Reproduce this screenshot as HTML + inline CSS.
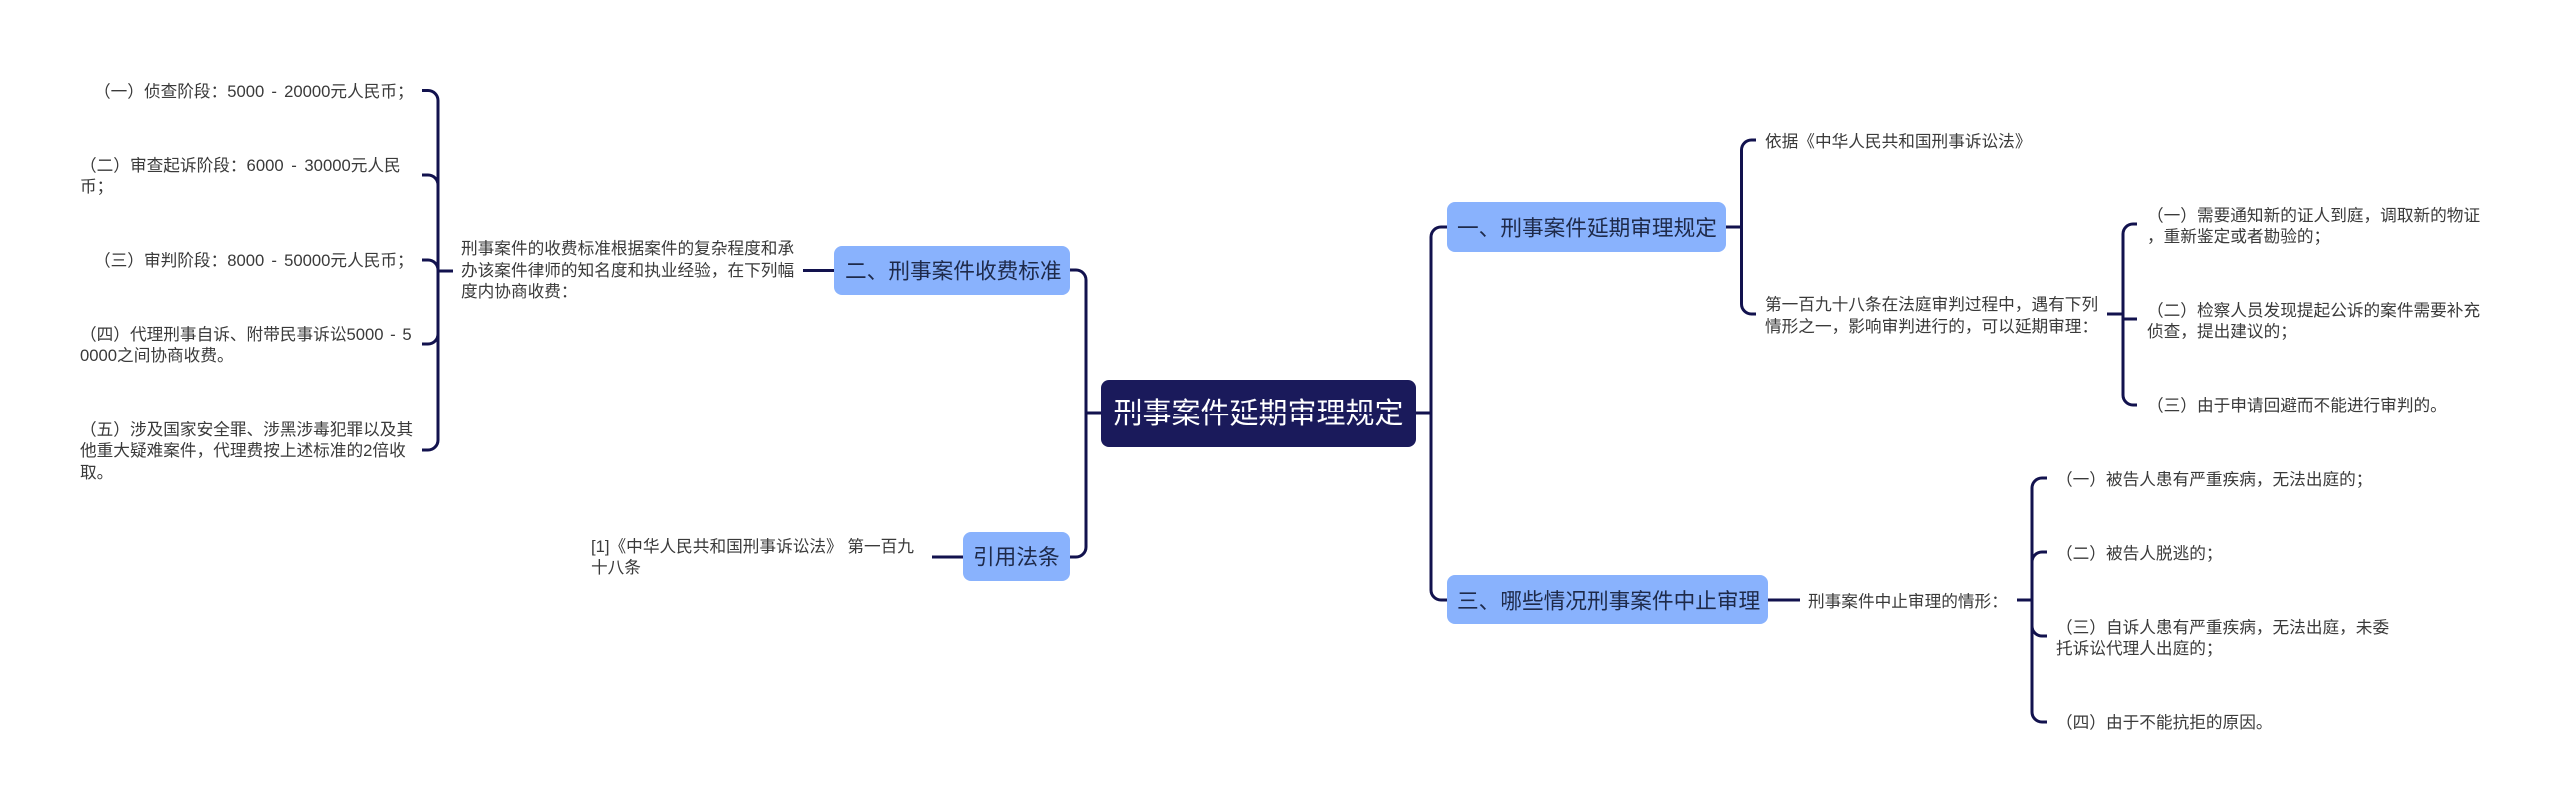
<!DOCTYPE html>
<html lang="zh">
<head>
<meta charset="utf-8">
<style>
html,body{margin:0;padding:0;background:#fff;}
#c{position:relative;width:2560px;height:812px;overflow:hidden;background:#fff;font-family:"Liberation Sans","Noto Sans CJK SC",sans-serif;}
#c svg{position:absolute;left:0;top:0;}
.n{position:absolute;box-sizing:border-box;border-radius:8px;background:#89b2fd;}
.r{position:absolute;left:1101px;top:380px;width:315px;height:67px;border-radius:8px;background:#1a1a5b;}
.t{position:absolute;white-space:pre;font-size:16.67px;line-height:22px;height:22px;color:#3a3a3a;transform:translateY(-11px);}
.h{position:absolute;white-space:pre;font-size:21.67px;line-height:32px;height:32px;color:#1e2a4a;transform:translateY(-14.500px);}
.rt{position:absolute;white-space:pre;left:1101px;top:391px;width:315px;text-align:center;font-size:29px;line-height:46px;color:#fff;}
</style>
</head>
<body>
<div id="c">
<div class="r"></div>
<div class="rt">刑事案件延期审理规定</div>
<div class="n" style="left:1447px;top:202px;width:279px;height:50px;"></div>
<div class="n" style="left:1447px;top:575px;width:321px;height:49px;"></div>
<div class="n" style="left:834px;top:246px;width:236px;height:49px;"></div>
<div class="n" style="left:963px;top:532px;width:107px;height:49px;"></div>

<svg width="2560" height="812" viewBox="0 0 2560 812" fill="none" stroke="#12124e" stroke-width="3">
<path d="M1101 413H1086M1416 413H1431"/>
<path stroke-width="2" stroke="#1a1a5b" d="M1101 413H1416"/>
<path d="M1447 227H1441a10 10 0 0 0-10 10V590a10 10 0 0 0 10 10H1447"/>
<path d="M1070 270H1076a10 10 0 0 1 10 10V547a10 10 0 0 1-10 10H1070"/>
<path d="M834 270.500H803M963 557H932"/>
<path d="M422 90.500H428a10 10 0 0 1 10 10V440a10 10 0 0 1-10 10H422"/>
<path d="M422 175H428a10 10 0 0 1 10 10M422 260H428a10 10 0 0 1 10 10M422 344H428a10 10 0 0 0 10-10M438 271H453"/>
<path d="M1726 227H1741.500M1756 140H1751.500a10 10 0 0 0-10 10V304a10 10 0 0 0 10 10H1756"/>
<path d="M2107 314H2123M2137 224H2133a10 10 0 0 0-10 10V395a10 10 0 0 0 10 10H2137M2123 319H2137"/>
<path d="M1768 600H1800M2017 600H2032"/>
<path d="M2047 478H2042a10 10 0 0 0-10 10V712a10 10 0 0 0 10 10H2047M2047 552H2042a10 10 0 0 0-10 10M2047 636H2042a10 10 0 0 1-10-10"/>
</svg>

<div class="h" style="left:1457px;top:227px;">一、刑事案件延期审理规定</div>
<div class="h" style="left:1457px;top:600px;">三、哪些情况刑事案件中止审理</div>
<div class="h" style="left:845px;top:270px;">二、刑事案件收费标准</div>
<div class="h" style="left:973px;top:556px;">引用法条</div>

<div class="t" style="left:94px;top:92px;word-spacing:2.500px;">（一）侦查阶段：5000 - 20000元人民币；</div>
<div class="t" style="left:80px;top:166px;word-spacing:3px;">（二）审查起诉阶段：6000 - 30000元人民</div>
<div class="t" style="left:80px;top:187px;">币；</div>
<div class="t" style="left:94px;top:261px;word-spacing:2.500px;">（三）审判阶段：8000 - 50000元人民币；</div>
<div class="t" style="left:80px;top:335px;word-spacing:2px;">（四）代理刑事自诉、附带民事诉讼5000 - 5</div>
<div class="t" style="left:80px;top:356px;">0000之间协商收费。</div>
<div class="t" style="left:80px;top:430px;">（五）涉及国家安全罪、涉黑涉毒犯罪以及其</div>
<div class="t" style="left:80px;top:451px;">他重大疑难案件，代理费按上述标准的2倍收</div>
<div class="t" style="left:80px;top:473px;">取。</div>

<div class="t" style="left:461px;top:249px;">刑事案件的收费标准根据案件的复杂程度和承</div>
<div class="t" style="left:461px;top:271px;">办该案件律师的知名度和执业经验，在下列幅</div>
<div class="t" style="left:461px;top:292px;">度内协商收费：</div>

<div class="t" style="left:591px;top:547px;">[1]《中华人民共和国刑事诉讼法》 第一百九</div>
<div class="t" style="left:591px;top:568px;">十八条</div>

<div class="t" style="left:1765px;top:142px;">依据《中华人民共和国刑事诉讼法》</div>
<div class="t" style="left:1765px;top:305px;">第一百九十八条在法庭审判过程中，遇有下列</div>
<div class="t" style="left:1765px;top:327px;">情形之一，影响审判进行的，可以延期审理：</div>

<div class="t" style="left:2147px;top:216px;">（一）需要通知新的证人到庭，调取新的物证</div>
<div class="t" style="left:2147px;top:237px;">，重新鉴定或者勘验的；</div>
<div class="t" style="left:2147px;top:311px;">（二）检察人员发现提起公诉的案件需要补充</div>
<div class="t" style="left:2147px;top:332px;">侦查，提出建议的；</div>
<div class="t" style="left:2147px;top:406px;">（三）由于申请回避而不能进行审判的。</div>

<div class="t" style="left:1808px;top:602px;">刑事案件中止审理的情形：</div>

<div class="t" style="left:2056px;top:480px;">（一）被告人患有严重疾病，无法出庭的；</div>
<div class="t" style="left:2056px;top:554px;">（二）被告人脱逃的；</div>
<div class="t" style="left:2056px;top:628px;">（三）自诉人患有严重疾病，无法出庭，未委</div>
<div class="t" style="left:2056px;top:649px;">托诉讼代理人出庭的；</div>
<div class="t" style="left:2056px;top:723px;">（四）由于不能抗拒的原因。</div>
</div>
</body>
</html>
